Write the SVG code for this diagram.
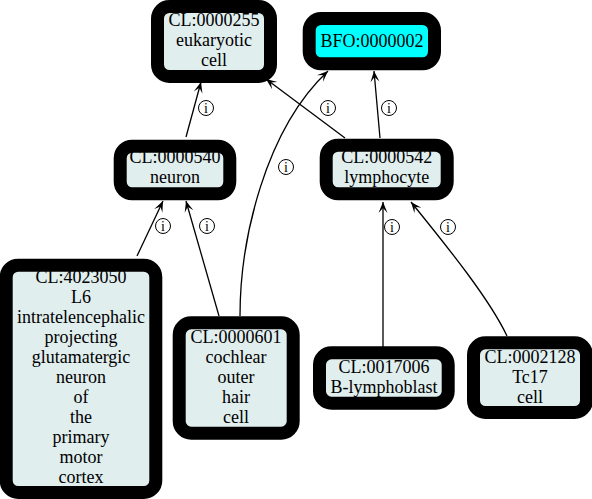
<svg xmlns="http://www.w3.org/2000/svg" width="592" height="499" viewBox="0 0 592 499">
<style>
.box{fill:#e0eeee;stroke:#000;stroke-width:13}
.root{fill:#00ffff;stroke:#000;stroke-width:13}
.t{font-family:'Liberation Serif','DejaVu Serif',serif;font-size:18px;text-anchor:middle;fill:#000}
.e{fill:none;stroke:#000;stroke-width:1.3;marker-end:url(#vee)}
.lc{fill:#fff;stroke:#000;stroke-width:1}
.lt{font-family:'Liberation Serif','DejaVu Serif',serif;font-size:14px;text-anchor:middle;fill:#000}
</style>
<defs>
<marker id="vee" viewBox="-11 -6 12 12" refX="0" refY="0" markerWidth="12" markerHeight="12" markerUnits="userSpaceOnUse" orient="auto">
<path d="M0,0 L-11,-4.5 L-6,0 L-11,4.5 Z" fill="#000"/>
</marker>
</defs>
<g id="edges">
<path class="e" d="M186,137 L201,82"/>
<path class="e" d="M345,138 L266,79"/>
<path class="e" d="M380,138 L374,71"/>
<path class="e" d="M240,316 C240,240 265,130 328,71"/>
<path class="e" d="M137,256 L163,201"/>
<path class="e" d="M219,316 L186,201"/>
<path class="e" d="M383,347 L383,202"/>
<path class="e" d="M507,336 C490,300 450,250 411,202"/>
<g id="labels">
<circle class="lc" cx="206" cy="108" r="7.5"/><text class="lt" x="206" y="113">i</text>
<circle class="lc" cx="328" cy="108" r="7.5"/><text class="lt" x="328" y="113">i</text>
<circle class="lc" cx="389" cy="108" r="7.5"/><text class="lt" x="389" y="113">i</text>
<circle class="lc" cx="286" cy="167" r="7.5"/><text class="lt" x="286" y="172">i</text>
<circle class="lc" cx="163" cy="226" r="7.5"/><text class="lt" x="163" y="231">i</text>
<circle class="lc" cx="207" cy="226" r="7.5"/><text class="lt" x="207" y="231">i</text>
<circle class="lc" cx="392" cy="227" r="7.5"/><text class="lt" x="392" y="232">i</text>
<circle class="lc" cx="448" cy="227" r="7.5"/><text class="lt" x="448" y="232">i</text>
</g>
</g>
<g id="CL0000255">
<rect class="box" x="157.5" y="6.5" width="113" height="70" rx="12"/>
<text class="t" x="214" y="26">CL:0000255</text>
<text class="t" x="214" y="46">eukaryotic</text>
<text class="t" x="214" y="66">cell</text>
</g>
<g id="BFO0000002">
<rect class="root" x="309.2" y="18.5" width="125.3" height="45.3" rx="12"/>
<text class="t" x="372" y="47">BFO:0000002</text>
</g>
<g id="CL0000540">
<rect class="box" x="120.2" y="146.2" width="109.6" height="47.6" rx="12"/>
<text class="t" x="175" y="163">CL:0000540</text>
<text class="t" x="175" y="183">neuron</text>
</g>
<g id="CL0000542">
<rect class="box" x="326.2" y="145.2" width="121" height="48.6" rx="12"/>
<text class="t" x="386.7" y="163">CL:0000542</text>
<text class="t" x="386.7" y="183">lymphocyte</text>
</g>
<g id="CL4023050">
<rect class="box" x="6.2" y="265.2" width="149.6" height="227.3" rx="12"/>
<text class="t" x="81" y="283">CL:4023050</text>
<text class="t" x="81" y="303">L6</text>
<text class="t" x="81" y="323">intratelencephalic</text>
<text class="t" x="81" y="343">projecting</text>
<text class="t" x="81" y="363">glutamatergic</text>
<text class="t" x="81" y="383">neuron</text>
<text class="t" x="81" y="403">of</text>
<text class="t" x="81" y="423">the</text>
<text class="t" x="81" y="443">primary</text>
<text class="t" x="81" y="463">motor</text>
<text class="t" x="81" y="483">cortex</text>
</g>
<g id="CL0000601">
<rect class="box" x="179.2" y="322.8" width="114" height="110.4" rx="12"/>
<text class="t" x="236" y="343">CL:0000601</text>
<text class="t" x="236" y="363">cochlear</text>
<text class="t" x="236" y="383">outer</text>
<text class="t" x="236" y="403">hair</text>
<text class="t" x="236" y="423">cell</text>
</g>
<g id="CL0017006">
<rect class="box" x="319.5" y="352.8" width="128.7" height="50.4" rx="12"/>
<text class="t" x="384" y="372.5">CL:0017006</text>
<text class="t" x="384" y="392.5">B-lymphoblast</text>
</g>
<g id="CL0002128">
<rect class="box" x="473.5" y="342.8" width="113" height="69.7" rx="12"/>
<text class="t" x="530" y="362.5">CL:0002128</text>
<text class="t" x="530" y="382.5">Tc17</text>
<text class="t" x="530" y="402.5">cell</text>
</g>
</svg>
